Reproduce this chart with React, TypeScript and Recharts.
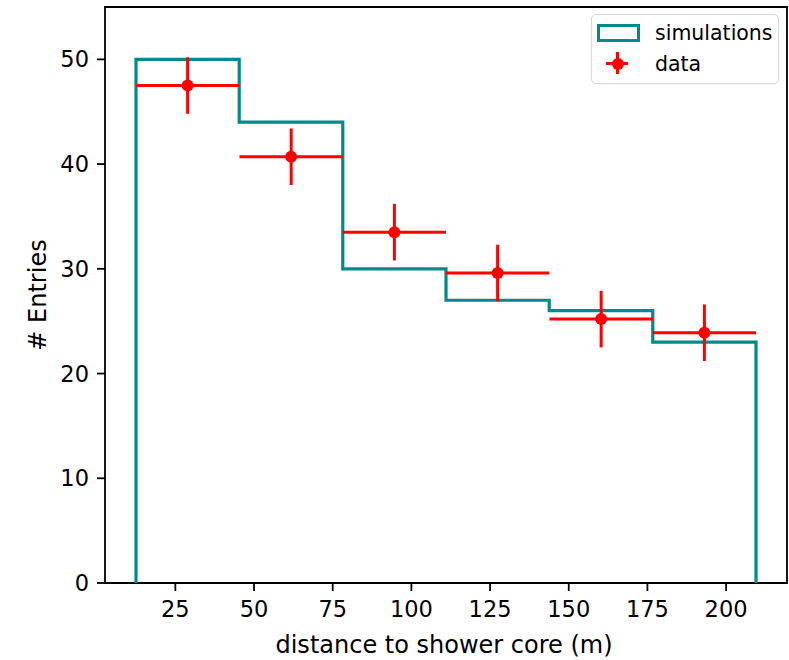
import { ComposedChart, Line, Scatter, ErrorBar, XAxis, YAxis, ReferenceArea } from 'recharts';

// histogram bins (m) and simulated counts
const binEdges = [12.5, 45.3, 78.2, 111.0, 143.8, 176.7, 209.5];
const simCounts = [50, 44, 30, 27, 26, 23];

// measured points
const dataCenters = [28.9, 61.8, 94.6, 127.4, 160.3, 193.1];
const dataCounts = [47.5, 40.7, 33.5, 29.6, 25.2, 23.9];
const dataErrors = [2.7, 2.7, 2.7, 2.7, 2.7, 2.7];

const xTicks = [25, 50, 75, 100, 125, 150, 175, 200];
const yTicks = [0, 10, 20, 30, 40, 50];
const xDomain: [number, number] = [2.65, 219.35];
const yDomain: [number, number] = [0, 55];

const TEAL = '#008b8b';
const RED = '#ff0000';
const FONT = 'DejaVu Sans';

// outline of the step histogram, closed down to zero on both ends
const stepData = [
  { x: binEdges[0], y: 0 },
  ...simCounts.map((c, i) => ({ x: binEdges[i], y: c })),
  { x: binEdges[binEdges.length - 1], y: 0 },
];

const pointData = dataCenters.map((x, i) => ({
  x,
  y: dataCounts[i],
  ex: (binEdges[i + 1] - binEdges[i]) / 2,
  ey: dataErrors[i],
}));

const tickStyle = { fill: '#000', fontSize: 22.5, fontFamily: FONT };

const Dot = (p: any) => <circle cx={p.cx} cy={p.cy} r={6} fill={RED} />;

const LegendBox = () => (
  <div
    style={{
      position: 'absolute',
      left: 591,
      top: 14,
      width: 188,
      height: 70,
      boxSizing: 'border-box',
      border: '1.5px solid #d6d6d6',
      borderRadius: 5,
      background: 'rgba(255,255,255,0.8)',
      fontFamily: FONT,
      fontSize: 20.5,
      color: '#000',
    }}
  >
    <div
      style={{
        position: 'absolute',
        left: 5,
        top: 9,
        width: 43,
        height: 18,
        boxSizing: 'border-box',
        border: `3px solid ${TEAL}`,
      }}
    />
    <div style={{ position: 'absolute', left: 63, top: 3, height: 30, lineHeight: '30px' }}>simulations</div>
    <div style={{ position: 'absolute', left: 14, top: 47, width: 22, height: 3, background: RED }} />
    <div style={{ position: 'absolute', left: 24, top: 37, width: 3, height: 22, background: RED }} />
    <div
      style={{ position: 'absolute', left: 19.5, top: 42.5, width: 12, height: 12, borderRadius: 6, background: RED }}
    />
    <div style={{ position: 'absolute', left: 63, top: 34, height: 30, lineHeight: '30px' }}>data</div>
  </div>
);

export default function App() {
  return (
    <div style={{ position: 'absolute', left: 0, top: 0, width: 789, height: 660, background: '#fff' }}>
      <ComposedChart width={789} height={660} margin={{ top: 7, right: 2, bottom: 0, left: 0 }}>
        <XAxis
          dataKey="x"
          type="number"
          domain={xDomain}
          ticks={xTicks}
          allowDataOverflow
          height={77}
          tickSize={8}
          tickMargin={10}
          axisLine={false}
          tickLine={{ stroke: '#000', strokeWidth: 1.8 }}
          tick={tickStyle}
          label={(props: any) => {
            const vb = props.viewBox;
            return (
              <text
                x={vb.x + vb.width / 2 - 2}
                y={653}
                textAnchor="middle"
                fontSize={24}
                fontFamily={FONT}
                fill="#000"
              >
                distance to shower core (m)
              </text>
            );
          }}
        />
        <YAxis
          dataKey="y"
          type="number"
          domain={yDomain}
          ticks={yTicks}
          allowDataOverflow
          width={105}
          tickSize={8}
          tickMargin={8}
          axisLine={false}
          tickLine={{ stroke: '#000', strokeWidth: 1.8 }}
          tick={tickStyle}
          label={(props: any) => {
            const vb = props.viewBox;
            const cy = vb.y + vb.height / 2;
            return (
              <text
                x={46}
                y={cy}
                transform={`rotate(-90 46 ${cy})`}
                textAnchor="middle"
                fontSize={24}
                fontFamily={FONT}
                fill="#000"
              >
                # Entries
              </text>
            );
          }}
        />
        <Line
          data={stepData}
          dataKey="y"
          type="stepAfter"
          stroke={TEAL}
          strokeWidth={3.2}
          dot={false}
          activeDot={false}
          isAnimationActive={false}
        />
        <Scatter data={pointData} fill={RED} shape={Dot} isAnimationActive={false}>
          <ErrorBar dataKey="ex" direction="x" width={0} stroke={RED} strokeWidth={3} isAnimationActive={false} />
          <ErrorBar dataKey="ey" direction="y" width={0} stroke={RED} strokeWidth={3} isAnimationActive={false} />
        </Scatter>
        <ReferenceArea
          x1={xDomain[0]}
          x2={xDomain[1]}
          y1={yDomain[0]}
          y2={yDomain[1]}
          fill="none"
          stroke="#000"
          strokeWidth={1.8}
          ifOverflow="visible"
        />
      </ComposedChart>
      <LegendBox />
    </div>
  );
}
